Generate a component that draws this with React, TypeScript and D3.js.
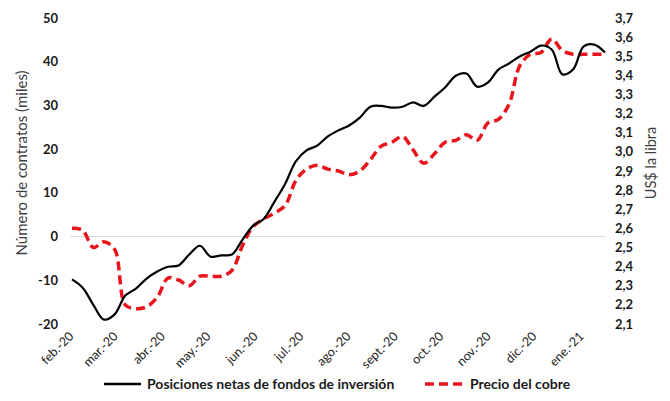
import React from 'react';
import * as d3 from 'd3';

// weekly observations, first week of Feb 2020 to mid Jan 2021
const startDate = new Date(2020, 1, 4);
const weeks = 51;

// net positions of investment funds (thousand contracts)
const netPositions = [
  -9.8, -11.7, -15.6, -19.0, -17.8, -13.5, -11.9, -9.6, -8.0, -6.9,
  -6.6, -4.1, -2.1, -4.6, -4.3, -4.1, -0.7, 2.5, 4.1, 8.0,
  12.1, 17.2, 19.7, 20.8, 22.9, 24.3, 25.4, 27.2, 29.7, 29.9,
  29.5, 29.7, 30.7, 29.9, 32.0, 34.1, 36.8, 37.3, 34.3, 35.2,
  38.2, 39.6, 41.2, 42.3, 43.7, 42.8, 37.1, 38.2, 43.5, 43.9, 42.1,
];

// copper price (US$ per pound)
const copperPrice = [
  2.60, 2.59, 2.50, 2.53, 2.49, 2.20, 2.18, 2.19, 2.24, 2.34,
  2.33, 2.30, 2.35, 2.35, 2.35, 2.38, 2.51, 2.61, 2.65, 2.68,
  2.72, 2.85, 2.91, 2.93, 2.91, 2.90, 2.88, 2.90, 2.96, 3.03,
  3.05, 3.08, 3.01, 2.94, 2.99, 3.05, 3.06, 3.09, 3.06, 3.15,
  3.17, 3.25, 3.45, 3.51, 3.52, 3.59, 3.53, 3.51, 3.51, 3.51, 3.51,
];

const monthLabels = [
  'feb.-20', 'mar.-20', 'abr.-20', 'may.-20', 'jun.-20', 'jul.-20',
  'ago.-20', 'sept.-20', 'oct.-20', 'nov.-20', 'dic.-20', 'ene.-21',
];
const leftTicks = [-20, -10, 0, 10, 20, 30, 40, 50];
const rightTicks = d3.range(21, 38).map(v => v / 10);

const dates = d3.range(weeks).map(i => d3.timeDay.offset(startDate, i * 7));
const monthDates = monthLabels.map((_, i) => new Date(2020, 1 + i, 1));

const font = 'Lato, "Noto Sans", sans-serif';
const red = '#e8141b';

export default function App() {
  const x = d3.scaleTime()
    .domain([dates[0], dates[dates.length - 1]])
    .range([72, 605]);
  const yLeft = d3.scaleLinear().domain([-20, 50]).range([324, 18]);
  const yRight = d3.scaleLinear().domain([2.1, 3.7]).range([324, 18]);

  const blackLine = d3.line<number>()
    .x((_, i) => x(dates[i]))
    .y(d => yLeft(d))
    .curve(d3.curveCatmullRom.alpha(0.5));
  const redLine = d3.line<number>()
    .x((_, i) => x(dates[i]))
    .y(d => yRight(d))
    .curve(d3.curveCatmullRom.alpha(0.5));

  return (
    <div style={{ position: 'absolute', left: 0, top: 0 }}>
      <svg width={670} height={401} style={{ display: 'block', background: '#fff' }}>
        {/* zero gridline */}
        <line x1={70} x2={605} y1={yLeft(0)} y2={yLeft(0)} stroke="#d9d9d9" strokeWidth={1} />

        {/* left axis */}
        {leftTicks.map(t => (
          <text key={t} x={58} y={yLeft(t)} dy="0.35em" textAnchor="end"
            fontFamily={font} fontWeight="bold" fontSize={13} fill="#1a1a1a">{t}</text>
        ))}
        <text transform={`translate(27,163) rotate(-90)`} textAnchor="middle"
          fontFamily={font} fontSize={15} fill="#404040">Número de contratos (miles)</text>

        {/* right axis */}
        {rightTicks.map(t => (
          <text key={t} x={615} y={yRight(t)} dy="0.35em"
            fontFamily={font} fontWeight="bold" fontSize={13} fill="#1a1a1a">
            {t.toFixed(1).replace('.', ',')}
          </text>
        ))}
        <text transform={`translate(656,163) rotate(-90)`} textAnchor="middle"
          fontFamily={font} fontSize={14.5} fill="#404040">US$ la libra</text>

        {/* month labels */}
        {monthDates.map((d, i) => (
          <text key={monthLabels[i]} transform={`translate(${x(d) + 7},${337}) rotate(-45)`}
            textAnchor="end" fontFamily={font} fontSize={12.5} fill="#1a1a1a">{monthLabels[i]}</text>
        ))}

        {/* series */}
        <path d={redLine(copperPrice) ?? ''} fill="none" stroke={red} strokeWidth={3.5}
          strokeDasharray="9,5" />
        <path d={blackLine(netPositions) ?? ''} fill="none" stroke="#000" strokeWidth={2.2} />

        {/* legend */}
        <line x1={104} x2={141} y1={384} y2={384} stroke="#000" strokeWidth={2.5} />
        <text x={147} y={384} dy="0.35em" fontFamily={font} fontWeight="bold" fontSize={14}
          fill="#1a1a1a">Posiciones netas de fondos de inversión</text>
        <line x1={425} x2={463} y1={384} y2={384} stroke={red} strokeWidth={3.5}
          strokeDasharray="9,5" />
        <text x={470} y={384} dy="0.35em" fontFamily={font} fontWeight="bold" fontSize={14}
          fill="#1a1a1a">Precio del cobre</text>
      </svg>
    </div>
  );
}
